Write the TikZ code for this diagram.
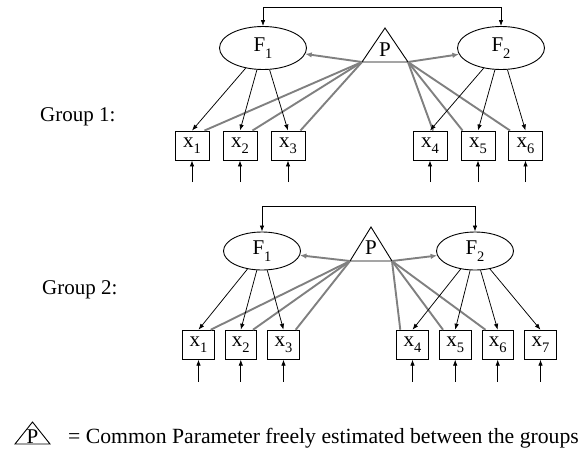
\documentclass[tikz,border=0pt]{standalone}
\usepackage{fontspec}
\setmainfont{Liberation Serif}
\usetikzlibrary{shapes.geometric,arrows.meta}
% lowered subscript in the text font
\newcommand{\lowsub}[1]{\raisebox{-0.3em}{\fontsize{14.5}{14.5}\selectfont #1}}
\begin{document}
\begin{tikzpicture}[x=1pt,y=-1pt,
  txt/.style={font=\fontsize{21}{21}\selectfont},
  latent/.style={draw,ellipse,line width=0.9pt,inner sep=0pt,txt},
  obs/.style={draw,fill=white,line width=0.9pt,inner sep=0pt,txt},
  load/.style={-{Latex[length=6pt,width=4.5pt]},line width=0.75pt},
  common/.style={line width=1.9pt,draw=black!50},
  commonarrow/.style={common,-{Latex[length=6.5pt,width=5.5pt]}},
  tri/.style={line width=0.9pt,line join=miter},
  ptext/.style={font=\fontsize{21}{21}\selectfont,inner sep=0pt},
  grouplabel/.style={anchor=west,inner sep=0pt,txt},
]
\useasboundingbox (0,0) rectangle (584,456);

% ---------------- Group 1 ----------------
\node[grouplabel] (g1) at (40,117) {Group 1:};

\node[latent,minimum width=87pt,minimum height=43pt] (Fa1) at (263,48) {F\lowsub{1}};
\node[latent,minimum width=87pt,minimum height=43pt] (Fa2) at (501,48) {F\lowsub{2}};

\coordinate (Pa-top) at (385,28);
\coordinate (Pa-l) at (362,62);
\coordinate (Pa-r) at (408,62);
\draw[tri] (Pa-top) -- (Pa-l) -- (Pa-r) -- cycle;
\node[ptext] (Pa) at (385,50) {P};

\draw[{Latex[length=6pt,width=4.5pt]}-{Latex[length=6pt,width=4.5pt]},line width=0.75pt]
  (Fa1.north) -- ++(0,-18.5) -| (Fa2.north);

\foreach \i/\x in {1/192,2/240,3/288,4/430,5/478,6/525.5}{
  \node[obs,minimum width=34pt,minimum height=29pt] (xa\i) at (\x,145.5) {x\lowsub{\i}};
  \coordinate (ea\i) at (\x,182);
  \draw[load] (ea\i) -- (xa\i.south);
}

\draw[commonarrow] (Pa-l) -- (Fa1);
\draw[commonarrow] (Pa-r) -- (Fa2);
\foreach \i in {1,2,3}{
  \draw[common] (Pa-l) -- ([xshift=-5pt]xa\i.north east);
}
\draw[common] (Pa-r) -- ([xshift=3pt]xa4.north);
\foreach \i in {5,6}{
  \draw[common] (Pa-r) -- ([xshift=2pt]xa\i.north west);
}
\foreach \i in {1,2,3}{ \draw[load] (Fa1) -- (xa\i.north); }
\foreach \i in {4,5,6}{ \draw[load] (Fa2) -- (xa\i.north); }

% ---------------- Group 2 ----------------
\node[grouplabel] (g2) at (42,290) {Group 2:};

\node[latent,minimum width=77pt,minimum height=38pt] (Fb1) at (262,251) {F\lowsub{1}};
\node[latent,minimum width=77pt,minimum height=38pt] (Fb2) at (475,251) {F\lowsub{2}};

\coordinate (Pb-top) at (371,227);
\coordinate (Pb-l) at (350,261);
\coordinate (Pb-r) at (392,261);
\draw[tri] (Pb-top) -- (Pb-l) -- (Pb-r) -- cycle;
\node[ptext] (Pb) at (371,248) {P};

\draw[{Latex[length=6pt,width=4.5pt]}-{Latex[length=6pt,width=4.5pt]},line width=0.75pt]
  (Fb1.north) -- ++(0,-24.7) -| (Fb2.north);

\foreach \i/\x in {1/198.5,2/240.8,3/283.5,4/412.5,5/455.2,6/497.7,7/540.5}{
  \node[obs,minimum width=31.5pt,minimum height=29pt] (xb\i) at (\x,344.7) {x\lowsub{\i}};
  \coordinate (eb\i) at (\x,381.7);
  \draw[load] (eb\i) -- (xb\i.south);
}

\draw[commonarrow] (Pb-l) -- (Fb1);
\draw[commonarrow] (Pb-r) -- (Fb2);
\foreach \i in {1,2,3}{
  \draw[common] (Pb-l) -- ([xshift=-4pt]xb\i.north east);
}
\foreach \i in {4,5,6}{
  \draw[common] (Pb-r) -- ([xshift=4pt]xb\i.north west);
}
\foreach \i in {1,2,3}{ \draw[load] (Fb1) -- (xb\i.north); }
\foreach \i in {4,5,6,7}{ \draw[load] (Fb2) -- (xb\i.north); }

% ---------------- Legend ----------------
\coordinate (Lg-top) at (32.5,422);
\coordinate (Lg-l) at (15,444);
\coordinate (Lg-r) at (50,444);
\draw[tri] (Lg-top) -- (Lg-l) -- (Lg-r) -- cycle;
\node[ptext] (Lg) at (32.5,436.5) {P};
\node[anchor=base west,inner sep=0pt,font=\fontsize{21.7}{21.7}\selectfont] (legend) at (68,443)
  {= Common Parameter freely estimated between the groups};
\end{tikzpicture}
\end{document}
